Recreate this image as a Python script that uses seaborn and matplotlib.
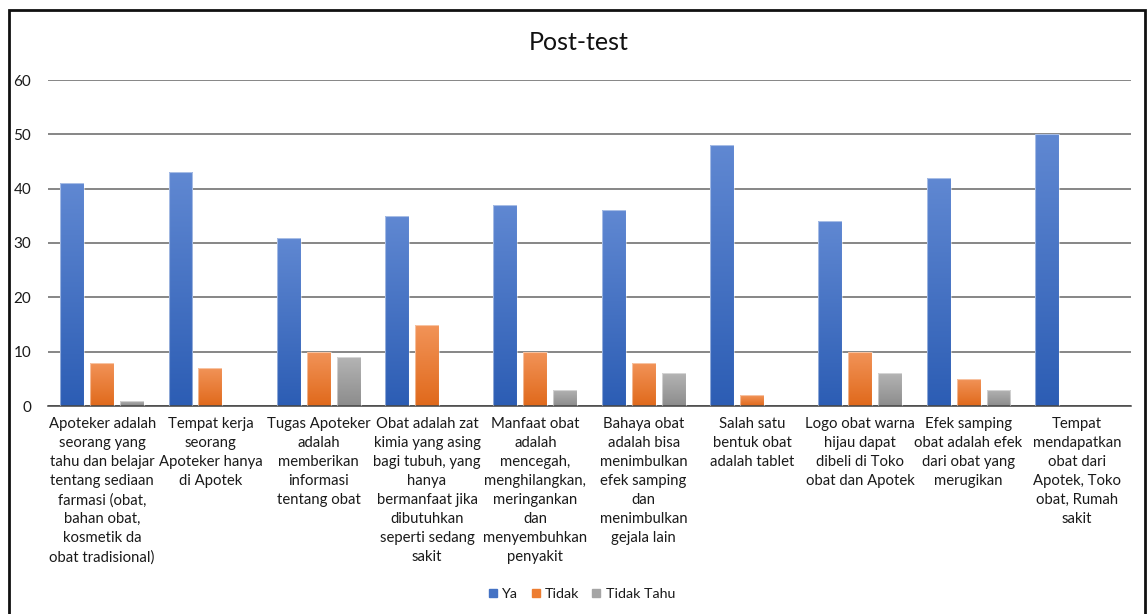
import numpy as np
import pandas as pd
import matplotlib
matplotlib.use("Agg")
import matplotlib.pyplot as plt
import seaborn as sns
from matplotlib.colors import LinearSegmentedColormap
from matplotlib.patches import Rectangle
from matplotlib.lines import Line2D

sns.set_theme(style="white")
plt.rcParams['font.family'] = ['Lato', 'DejaVu Sans']

# ---- data ----
categories = [
    "Apoteker adalah\nseorang yang\ntahu dan belajar\ntentang sediaan\nfarmasi (obat,\nbahan obat,\nkosmetik da\nobat tradisional)",
    "Tempat kerja\nseorang\nApoteker hanya\ndi Apotek",
    "Tugas Apoteker\nadalah\nmemberikan\ninformasi\ntentang obat",
    "Obat adalah zat\nkimia yang asing\nbagi tubuh, yang\nhanya\nbermanfaat jika\ndibutuhkan\nseperti sedang\nsakit",
    "Manfaat obat\nadalah\nmencegah,\nmenghilangkan,\nmeringankan\ndan\nmenyembuhkan\npenyakit",
    "Bahaya obat\nadalah bisa\nmenimbulkan\nefek samping\ndan\nmenimbulkan\ngejala lain",
    "Salah satu\nbentuk obat\nadalah tablet",
    "Logo obat warna\nhijau dapat\ndibeli di Toko\nobat dan Apotek",
    "Efek samping\nobat adalah efek\ndari obat yang\nmerugikan",
    "Tempat\nmendapatkan\nobat dari\nApotek, Toko\nobat, Rumah\nsakit",
]
series_names = ["Ya", "Tidak", "Tidak Tahu"]
ya = [41, 43, 31, 35, 37, 36, 48, 34, 42, 50]
tidak = [8, 7, 10, 15, 10, 8, 2, 10, 5, 0]
tidak_tahu = [1, 0, 9, 0, 3, 6, 0, 6, 3, 0]
y_ticks = [0, 10, 20, 30, 40, 50, 60]

df = pd.DataFrame({
    "Pernyataan": categories * 3,
    "Jawaban": np.repeat(series_names, len(categories)),
    "Jumlah": ya + tidak + tidak_tahu,
})

# gradient colours per series (top -> bottom)
grad = {
    "Ya": ("#6088d2", "#2c5db4"),
    "Tidak": ("#f29459", "#e0691b"),
    "Tidak Tahu": ("#b4b4b4", "#8c8c8c"),
}
base = {"Ya": "#4472c4", "Tidak": "#ed7d31", "Tidak Tahu": "#a5a5a5"}
text_color = "#1a1a1a"

W, H = 1147, 614
fig = plt.figure(figsize=(W / 100, H / 100), dpi=100)
ax = fig.add_axes([48 / W, 1 - 406 / H, (1131 - 48) / W, (406 - 80) / H])

sns.barplot(data=df, x="Pernyataan", y="Jumlah", hue="Jawaban",
            hue_order=series_names, palette=base, width=0.83, gap=0.2,
            order=categories, ax=ax, legend=False, saturation=1)

# paint each bar with a vertical gradient
n_cat = len(categories)
for i, patch in enumerate(ax.patches):
    name = series_names[i // n_cat]
    x0, y0 = patch.get_x(), patch.get_y()
    w, h = patch.get_width(), patch.get_height()
    if h <= 0:
        patch.set_visible(False)
        continue
    cmap = LinearSegmentedColormap.from_list(name, [grad[name][1], grad[name][0]])
    img = ax.imshow(np.linspace(0, 1, 256).reshape(-1, 1), cmap=cmap, origin="lower",
                    extent=[x0, x0 + w, y0, y0 + h], aspect="auto", zorder=2,
                    interpolation="bilinear")
    img.set_clip_path(patch)
    patch.set_facecolor("none")
    patch.set_edgecolor((1, 1, 1, 0.45))
    patch.set_linewidth(0.8)
    patch.set_zorder(3)

ax.set_xlim(-0.5, n_cat - 0.5)
ax.set_ylim(0, 60)
ax.set_yticks(y_ticks)
ax.set_yticklabels([str(v) for v in y_ticks], fontsize=11, color=text_color)
ax.set_xticks(range(n_cat))
ax.set_xticklabels(categories, fontsize=10.7, color=text_color, linespacing=1.45,
                   va="top", ha="center")
ax.tick_params(axis="both", length=0)
ax.tick_params(axis="y", pad=12)
ax.tick_params(axis="x", pad=8)
ax.set_xlabel("")
ax.set_ylabel("")
ax.yaxis.grid(True, color="#666666", linewidth=1.1, zorder=0)
ax.set_axisbelow(True)
for s in ["top", "right", "left"]:
    ax.spines[s].set_visible(False)
ax.spines["bottom"].set_color("#404040")
ax.spines["bottom"].set_linewidth(1.1)

fig.text(579 / W, 1 - 43 / H, "Post-test", ha="center", va="center",
         fontsize=18, color="#111111")

handles = [Line2D([], [], marker="s", linestyle="none", markersize=6,
                  markerfacecolor=base[n], markeredgecolor=base[n]) for n in series_names]
fig.legend(handles, series_names, loc="center", bbox_to_anchor=(582 / W, 1 - 594 / H),
           ncol=3, frameon=False, fontsize=10.3, handletextpad=0.35, columnspacing=0.9,
           handlelength=0.6, labelcolor=text_color)

# outer chart frame
fig.patches.append(Rectangle((9 / W, -0.05), (1145 - 9) / W, 1.05 - 10 / H,
                             transform=fig.transFigure, fill=False,
                             edgecolor="#111111", linewidth=2))

fig.savefig("out.png", dpi=100, facecolor="white")
